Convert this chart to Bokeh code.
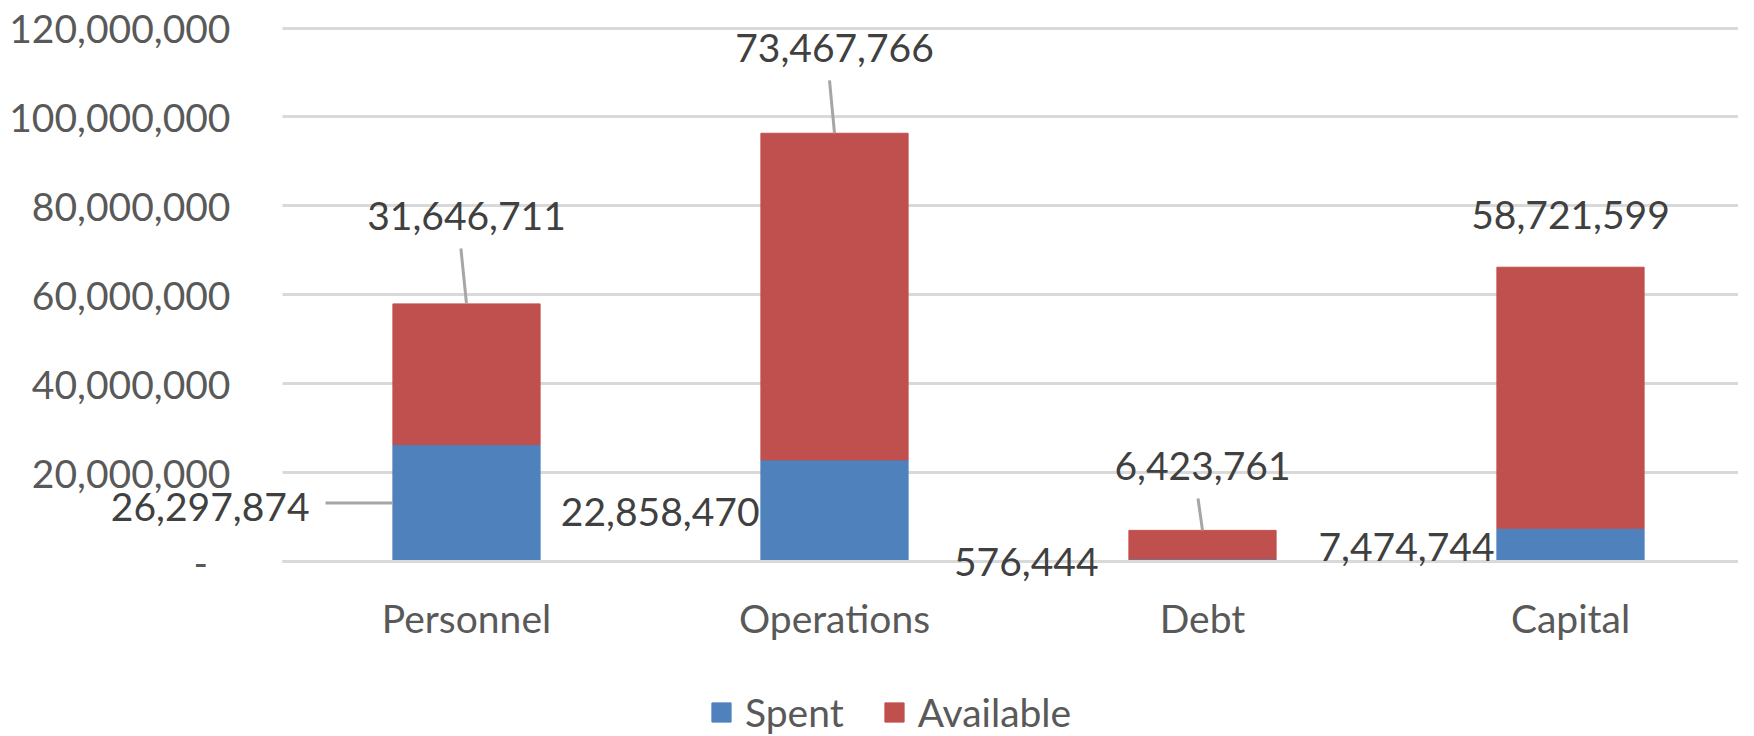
from bokeh.plotting import figure
from bokeh.models import (Range1d, FixedTicker, NumeralTickFormatter, Legend,
                          LegendItem, ColumnDataSource)
from bokeh.embed import file_html
from bokeh.resources import INLINE
from bokeh.core.properties import value

# ---------------- data ----------------
categories = ["Personnel", "Operations", "Debt", "Capital"]
spent = [26297874, 22858470, 576444, 7474744]
available = [31646711, 73467766, 6423761, 58721599]
y_ticks = [0, 20000000, 40000000, 60000000, 80000000, 100000000, 120000000]
series_names = ["Spent", "Available"]

# ---------------- styles / layout ----------------
colors = ["#4f81bd", "#c0504d"]
FONT = value("Lato")
FS = "39px"
W, H = 1738, 736
PLOT_L = 282          # px where the category area starts
CAT_PX = 368          # px per category
ZERO_PX = 561         # px of value 0
PX_PER_M = 4.4458     # px per million
X0 = -0.5 - PLOT_L / CAT_PX
X1 = -0.5 + (W - PLOT_L) / CAT_PX
Y1 = ZERO_PX / PX_PER_M * 1e6
Y0 = -(H - ZERO_PX) / PX_PER_M * 1e6
px_x = CAT_PX
px_y = PX_PER_M / 1e6
BAR_W = 0.4

# label placements (screen px, relative to anchors)
avail_dx = [0, 0, 0, 0]
avail_dy = [-88, -85, -64, -52]          # from top of stack
spent_dx = [-157, -75, -104, -76]        # right edge of text from category centre
spent_dy = [62, 52, 3, 19]               # from top of spent segment
# leader lines for "Available" labels: (dx, dy) of upper end relative to stack top
avail_leader = [(-5.6, -55.4), (-5, -52.8), (-4.5, -31.9), None]
# leader for spent label: left end x offset (px) from category centre, at mid-segment
spent_leader = [-141, None, None, None]

idx = list(range(len(categories)))
totals = [s + a for s, a in zip(spent, available)]

p = figure(width=W, height=H, x_range=Range1d(X0, X1), y_range=Range1d(Y0, Y1),
           output_backend="svg", toolbar_location=None,
           min_border_left=0, min_border_right=0,
           min_border_top=0, min_border_bottom=0)
p.outline_line_color = None
p.background_fill_color = "white"
p.border_fill_color = "white"

# grid
p.xgrid.visible = False
p.ygrid.grid_line_color = "#d9d9d9"
p.ygrid.grid_line_width = 3
p.ygrid.cross_bounds = (-0.5, X1)

# y axis (drawn at the left edge of the category area)
yax = p.yaxis[0]
yax.fixed_location = -0.5
yax.ticker = FixedTicker(ticks=y_ticks)
yax.formatter = NumeralTickFormatter(format="0,0")
yax.major_label_overrides = {0: "-\u2007"}
yax.axis_line_color = None
yax.major_tick_line_color = None
yax.minor_tick_line_color = None
yax.major_tick_out = 0
yax.major_tick_in = 0
yax.major_label_standoff = 52
yax.major_label_text_font = "Lato"
yax.major_label_text_font_size = FS
yax.major_label_text_color = "#595959"

# x axis (drawn at value 0, its line over the bars like Excel's category axis)
xax = p.xaxis[0]
xax.fixed_location = 0
xax.ticker = FixedTicker(ticks=idx)
xax.bounds = (-0.5, X1)
xax.major_label_overrides = {i: c for i, c in zip(idx, categories)}
xax.axis_line_color = "#d9d9d9"
xax.axis_line_width = 3
xax.major_tick_line_color = None
xax.minor_tick_line_color = None
xax.major_tick_out = 0
xax.major_tick_in = 0
xax.major_label_standoff = 33
xax.major_label_text_font = "Lato"
xax.major_label_text_font_size = FS
xax.major_label_text_color = "#595959"

# bars
src = ColumnDataSource(dict(x=idx, Spent=spent, Available=available))
rs = p.vbar_stack(series_names, x="x", width=BAR_W, source=src,
                  fill_color=colors, line_color=colors, line_width=1)

# leader lines
lx0, ly0, lx1, ly1 = [], [], [], []
for i, ld in enumerate(avail_leader):
    if ld is None:
        continue
    dx, dy = ld
    lx0.append(i + dx / px_x); ly0.append(totals[i] - dy / px_y)
    lx1.append(i); ly1.append(totals[i])
for i, ld in enumerate(spent_leader):
    if ld is None:
        continue
    lx0.append(i + ld / px_x); ly0.append(spent[i] / 2)
    lx1.append(i - BAR_W / 2); ly1.append(spent[i] / 2)
p.segment(x0=lx0, y0=ly0, x1=lx1, y1=ly1, line_color="#a6a6a6", line_width=3)

# data labels (drawn above the axis line)
fmt = lambda v: f"{v:,}"
t1 = p.text(x=idx, y=totals, text=[fmt(v) for v in available], x_offset=avail_dx,
            y_offset=avail_dy, text_align="center", text_baseline="middle",
            text_font=FONT, text_font_size=FS, text_color="#404040")
t2 = p.text(x=idx, y=spent, text=[fmt(v) for v in spent], x_offset=spent_dx,
            y_offset=spent_dy, text_align="right", text_baseline="middle",
            text_font=FONT, text_font_size=FS, text_color="#404040")
t1.level = "overlay"
t2.level = "overlay"

# legend
legend = Legend(items=[LegendItem(label=n, renderers=[r]) for n, r in zip(series_names, rs)],
                orientation="horizontal", location=(709, 1),
                glyph_width=24, glyph_height=24, label_standoff=12, spacing=38,
                padding=0, margin=0, border_line_color=None,
                background_fill_alpha=0, label_text_font="Lato",
                label_text_font_size=FS, label_text_color="#595959")
p.add_layout(legend)

open("out.html", "w").write(file_html(p, INLINE))
